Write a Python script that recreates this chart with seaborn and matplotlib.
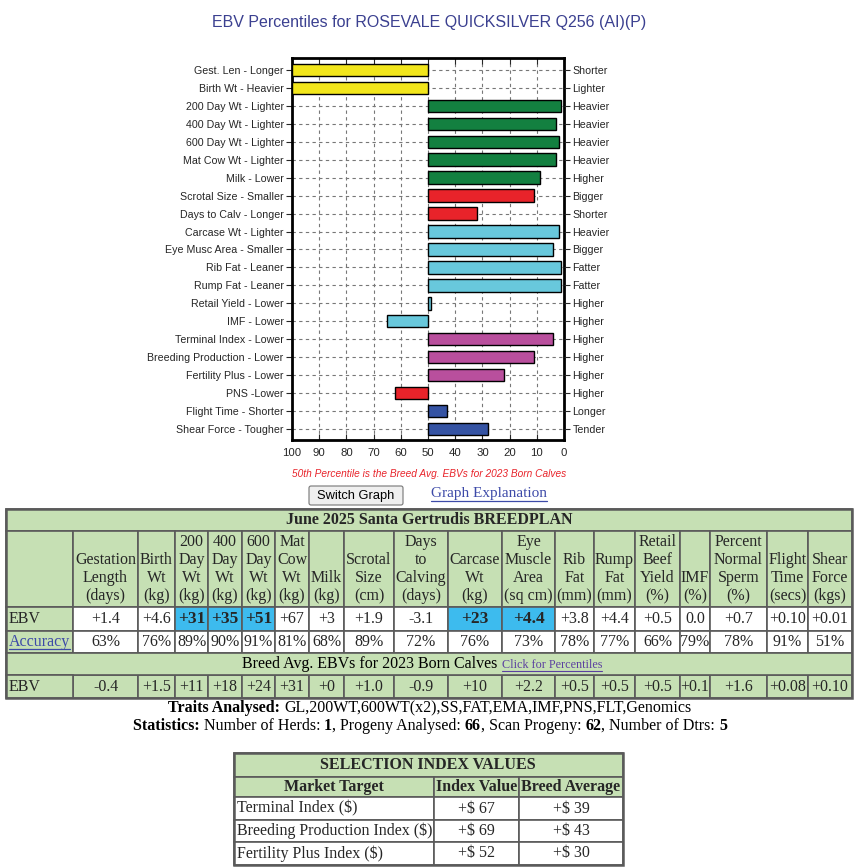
import numpy as np
import pandas as pd
import matplotlib
matplotlib.use("Agg")
import matplotlib.pyplot as plt
from matplotlib.patches import Rectangle, FancyBboxPatch
import seaborn as sns

# ---- chart data ----
left_labels = ["Gest. Len - Longer", "Birth Wt - Heavier", "200 Day Wt - Lighter", "400 Day Wt - Lighter",
               "600 Day Wt - Lighter", "Mat Cow Wt - Lighter", "Milk - Lower", "Scrotal Size - Smaller",
               "Days to Calv - Longer", "Carcase Wt - Lighter", "Eye Musc Area - Smaller", "Rib Fat - Leaner",
               "Rump Fat - Leaner", "Retail Yield - Lower", "IMF - Lower", "Terminal Index - Lower",
               "Breeding Production - Lower", "Fertility Plus - Lower", "PNS -Lower", "Flight Time - Shorter",
               "Shear Force - Tougher"]
right_labels = ["Shorter", "Lighter", "Heavier", "Heavier", "Heavier", "Heavier", "Higher", "Bigger",
                "Shorter", "Heavier", "Bigger", "Fatter", "Fatter", "Higher", "Higher", "Higher",
                "Higher", "Higher", "Higher", "Longer", "Tender"]
percentiles = [100, 100, 1, 3, 2, 3, 9, 11, 32, 2, 4, 1, 1, 49, 65, 4, 11, 22, 62, 43, 28]
bar_groups = ["yellow", "yellow", "green", "green", "green", "green", "green", "red", "red",
              "lblue", "lblue", "lblue", "lblue", "lblue", "lblue", "magenta", "magenta", "magenta",
              "red", "dblue", "dblue"]
group_colors = {"yellow": "#f2e61c", "green": "#138040", "red": "#e8232a", "lblue": "#68c8dc",
                "magenta": "#b94f9d", "dblue": "#3553a3"}

# ---- EBV table data ----
col_heads = [[""], ["Gestation", "Length", "(days)"], ["Birth", "Wt", "(kg)"], ["200", "Day", "Wt", "(kg)"],
             ["400", "Day", "Wt", "(kg)"], ["600", "Day", "Wt", "(kg)"], ["Mat", "Cow", "Wt", "(kg)"],
             ["Milk", "(kg)"], ["Scrotal", "Size", "(cm)"], ["Days", "to", "Calving", "(days)"],
             ["Carcase", "Wt", "(kg)"], ["Eye", "Muscle", "Area", "(sq cm)"], ["Rib", "Fat", "(mm)"],
             ["Rump", "Fat", "(mm)"], ["Retail", "Beef", "Yield", "(%)"], ["IMF", "(%)"],
             ["Percent", "Normal", "Sperm", "(%)"], ["Flight", "Time", "(secs)"], ["Shear", "Force", "(kgs)"]]
ebv_vals = ["+1.4", "+4.6", "+31", "+35", "+51", "+67", "+3", "+1.9", "-3.1", "+23", "+4.4", "+3.8",
            "+4.4", "+0.5", "0.0", "+0.7", "+0.10", "+0.01"]
ebv_highlight = [False, False, True, True, True, False, False, False, False, True, True, False,
                 False, False, False, False, False, False]
accuracy = ["63%", "76%", "89%", "90%", "91%", "81%", "68%", "89%", "72%", "76%", "73%", "78%",
            "77%", "66%", "79%", "78%", "91%", "51%"]
breed_avg = ["-0.4", "+1.5", "+11", "+18", "+24", "+31", "+0", "+1.0", "-0.9", "+10", "+2.2", "+0.5",
             "+0.5", "+0.5", "+0.1", "+1.6", "+0.08", "+0.10"]

# ---- selection index data ----
index_names = ["Terminal Index ($)", "Breeding Production Index ($)", "Fertility Plus Index ($)"]
index_values = ["+$ 67", "+$ 69", "+$ 52"]
index_breed_avg = ["+$ 39", "+$ 43", "+$ 30"]

sns.set_style("white")
plt.rcParams["font.family"] = ["Liberation Sans", "DejaVu Sans"]

W, H = 860, 868
fig = plt.figure(figsize=(W / 100, H / 100), dpi=100)

# ---------- bar chart ----------
ax = fig.add_axes([292 / W, 1 - 440 / H, (564 - 292) / W, (440 - 58) / H])
df = pd.DataFrame({"trait": left_labels, "pct": percentiles, "grp": bar_groups})
df["offset"] = df["pct"] - 50
palette = {t: group_colors[g] for t, g in zip(df["trait"], df["grp"])}
sns.barplot(data=df, x="offset", y="trait", hue="trait", palette=palette, legend=False, saturation=1,
            orient="h", width=0.7, edgecolor="black", linewidth=1, ax=ax, zorder=3)
ax.set_xlim(50, -50)
n = len(left_labels)
ax.set_ylim(n - 1 + 0.62, -0.67)
ticks = np.arange(-50, 51, 10)
ax.set_xticks(ticks)
ax.set_xticklabels([str(int(t + 50)) for t in ticks], fontsize=8.2)
ax.set_xlabel("")
ax.set_ylabel("")
ax.tick_params(axis="y", labelsize=7.7, length=4, width=0.8, direction="out", left=True, pad=2)
ax.tick_params(axis="x", length=4, width=0.8, direction="in", top=True, bottom=True, pad=6)
ax.grid(True, linestyle=(0, (3, 3)), color="#777777", linewidth=0.8)
ax.set_axisbelow(True)
for s in ax.spines.values():
    s.set_linewidth(2)
    s.set_color("black")
ax2 = ax.twinx()
ax2.set_ylim(ax.get_ylim())
ax2.set_yticks(range(n))
ax2.set_yticklabels(right_labels, fontsize=7.7)
ax2.tick_params(axis="y", length=4, width=0.8, direction="out", pad=2)
for s in ax2.spines.values():
    s.set_visible(False)

# ---------- overlay in pixel units ----------
ov = fig.add_axes([0, 0, 1, 1])
ov.set_xlim(0, W)
ov.set_ylim(H, 0)
ov.axis("off")
ov.patch.set_alpha(0)

ov.text(429, 22, "EBV Percentiles for ROSEVALE QUICKSILVER Q256 (AI)(P)", ha="center", va="center",
        fontsize=11.5, color="#3b4090")
ov.text(429, 474, "50th Percentile is the Breed Avg. EBVs for 2023 Born Calves", ha="center", va="center",
        fontsize=7.3, color="#e8232a", style="italic")

ov.add_patch(FancyBboxPatch((309, 486), 94, 19, boxstyle="round,pad=0,rounding_size=2",
                            facecolor="#efefef", edgecolor="#767676", lw=0.8))
ov.text(356, 495.5, "Switch Graph", ha="center", va="center", fontsize=9.3, color="black")

serif = ["Liberation Serif", "DejaVu Serif"]
link = "#3d4aa8"
renderer = fig.canvas.get_renderer()


def underlined(x, y, s, size, color, ha="left"):
    t = ov.text(x, y, s, ha=ha, va="center", fontsize=size, color=color, family=serif)
    bb = t.get_window_extent(renderer)
    ov.plot([bb.x0, bb.x1], [y + size * 0.62, y + size * 0.62], color=color, lw=0.9)
    return t


underlined(489, 494, "Graph Explanation", 11, link, ha="center")


def rich_line(pieces, xc, y, size):
    texts = []
    widths = []
    for s, w, c in pieces:
        t = ov.text(0, y, s, ha="left", va="center", fontsize=size, fontweight=w, color=c, family=serif)
        texts.append(t)
        widths.append(t.get_window_extent(renderer).width)
    x = xc - sum(widths) / 2
    for t, wd in zip(texts, widths):
        t.set_x(x)
        x += wd
    return texts


green = "#c6e0b4"
hl_blue = "#3dbbee"
border = "#5a5a5a"


def cell(x0, x1, y0, y1, color):
    ov.add_patch(Rectangle((x0, y0), x1 - x0, y1 - y0, facecolor=color, edgecolor=border, lw=1.2))


# ---------- EBV table ----------
cols = [6, 73, 138, 175, 208, 242, 275, 309, 344, 394, 448, 502, 555, 594, 635, 680, 710, 767, 808, 852]
rows = [509, 531, 607, 631, 653, 675, 698]
fs = 11.5
cell(cols[0], cols[-1], rows[0], rows[1], green)
ov.text(429, 520, "June 2025 Santa Gertrudis BREEDPLAN", ha="center", va="center", fontsize=fs,
        fontweight="bold", family=serif)
for i, head in enumerate(col_heads):
    cell(cols[i], cols[i + 1], rows[1], rows[2], green)
    xc = (cols[i] + cols[i + 1]) / 2
    for j, line in enumerate(head):
        ov.text(xc, 596 - 18 * (len(head) - 1 - j), line, ha="center", va="center", fontsize=fs, family=serif)

cell(cols[0], cols[1], rows[2], rows[3], green)
ov.text(9, 619, "EBV", ha="left", va="center", fontsize=fs, family=serif)
cell(cols[0], cols[1], rows[3], rows[4], green)
underlined(9, 642, "Accuracy", fs, link)
for i in range(len(ebv_vals)):
    x0, x1 = cols[i + 1], cols[i + 2]
    xc = (x0 + x1) / 2
    cell(x0, x1, rows[2], rows[3], hl_blue if ebv_highlight[i] else "white")
    ov.text(xc, 619, ebv_vals[i], ha="center", va="center", fontsize=fs + 1 if ebv_highlight[i] else fs,
            fontweight="bold" if ebv_highlight[i] else "normal", family=serif)
    cell(x0, x1, rows[3], rows[4], "white")
    ov.text(xc, 642, accuracy[i], ha="center", va="center", fontsize=fs, family=serif)
    cell(x0, x1, rows[5], rows[6], green)
    ov.text(xc, 687, breed_avg[i], ha="center", va="center", fontsize=fs, family=serif)

cell(cols[0], cols[-1], rows[4], rows[5], green)
bt = rich_line([("Breed Avg. EBVs for 2023 Born Calves ", "normal", "black")], 372, 664, fs)
bx = bt[0].get_window_extent(renderer).x1
ct = ov.text(bx, 665, "Click for Percentiles", ha="left", va="center", fontsize=8.7, color="#5b3fa0",
             family=serif)
cb = ct.get_window_extent(renderer)
ov.plot([cb.x0, cb.x1], [670.5, 670.5], color="#5b3fa0", lw=0.8)
cell(cols[0], cols[1], rows[5], rows[6], green)
ov.text(9, 687, "EBV", ha="left", va="center", fontsize=fs, family=serif)
ov.add_patch(Rectangle((cols[0], rows[0]), cols[-1] - cols[0], rows[-1] - rows[0], facecolor="none",
                       edgecolor=border, lw=1.8))

# ---------- traits / statistics ----------
rich_line([("Traits Analysed: ", "bold", "black"),
           ("GL,200WT,600WT(x2),SS,FAT,EMA,IMF,PNS,FLT,Genomics", "normal", "black")], 430, 708, fs)
rich_line([("Statistics: ", "bold", "black"), ("Number of Herds: ", "normal", "black"), ("1", "bold", "black"),
           (", Progeny Analysed: ", "normal", "black"), ("66", "bold", "black"),
           (", Scan Progeny: ", "normal", "black"), ("62", "bold", "black"),
           (", Number of Dtrs: ", "normal", "black"), ("5", "bold", "black")], 430, 726, fs)

# ---------- selection index table ----------
scols = [234, 434, 519, 623]
srows = [753, 777, 797, 820, 842, 865]
cell(scols[0], scols[-1], srows[0], srows[1], green)
ov.text(428, 765, "SELECTION INDEX VALUES", ha="center", va="center", fontsize=fs, fontweight="bold",
        family=serif)
for i, h in enumerate(["Market Target", "Index Value", "Breed Average"]):
    cell(scols[i], scols[i + 1], srows[1], srows[2], green)
    ov.text((scols[i] + scols[i + 1]) / 2, 787, h, ha="center", va="center", fontsize=fs,
            fontweight="bold", family=serif)
for r in range(len(index_names)):
    y0, y1 = srows[r + 2], srows[r + 3]
    yc = (y0 + y1) / 2
    for i in range(3):
        cell(scols[i], scols[i + 1], y0, y1, "white")
    ov.text(scols[0] + 3, yc, index_names[r], ha="left", va="center", fontsize=fs, family=serif)
    ov.text((scols[1] + scols[2]) / 2, yc, index_values[r], ha="center", va="center", fontsize=fs, family=serif)
    ov.text((scols[2] + scols[3]) / 2, yc, index_breed_avg[r], ha="center", va="center", fontsize=fs,
            family=serif)
ov.add_patch(Rectangle((scols[0], srows[0]), scols[-1] - scols[0], srows[-1] - srows[0], facecolor="none",
                       edgecolor=border, lw=1.8))

fig.savefig("out.png", dpi=100)
